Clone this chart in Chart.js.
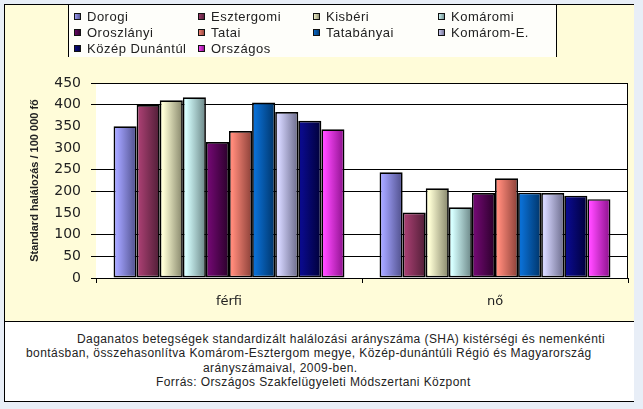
<!DOCTYPE html>
<html>
<head>
<meta charset="utf-8">
<script src="https://cdn.jsdelivr.net/npm/chart.js@4/dist/chart.umd.min.js"></script>
<style>
  body { margin: 0; background: #e8eef7; width: 643px; height: 409px; overflow: hidden; position: relative; }
  #frame { position: absolute; left: 4px; top: 4px; width: 630px; height: 318px; background: #fffcd9;
           border-left: 1px solid #000; border-top: 1px solid #000; box-sizing: border-box; }
  #legendBox { position: absolute; left: 68px; top: 5px; width: 489px; height: 52px; background: #fefefa;
               border-left: 1px solid #000; border-right: 1px solid #000; box-sizing: border-box; }
  #caption { position: absolute; left: 4px; top: 321px; width: 630px; height: 81px; background: #fff;
             border-left: 1px solid #000; border-top: 1px solid #000; border-bottom: 1px solid #000; box-sizing: border-box; }
  #captionText { position: absolute; left: 0; top: 332px; font: 12px "Liberation Sans", Arial, sans-serif;
                 color: #222; line-height: 14.4px; white-space: nowrap; letter-spacing: 0.42px; }
  #captionText div { padding-left: var(--pl); }
  #chart { position: absolute; left: 0; top: 0; }
</style>
</head>
<body>
<div id="frame"></div>
<div id="legendBox"></div>
<div id="caption"></div>
<div id="captionText">
  <div style="--pl:77px">Daganatos betegségek standardizált halálozási arányszáma (SHA) kistérségi és nemenkénti</div>
  <div style="--pl:26px">bontásban, összehasonlítva Komárom-Esztergom megye, Közép-dunántúli Régió és Magyarország</div>
  <div style="--pl:203px">arányszámaival, 2009-ben.</div>
  <div style="--pl:156px">Forrás: Országos Szakfelügyeleti Módszertani Központ</div>
</div>
<canvas id="chart" width="643" height="409"></canvas>
<script>
const categories = ["férfi", "nő"];
const regions = ["Dorogi", "Esztergomi", "Kisbéri", "Komáromi", "Oroszlányi",
                 "Tatai", "Tatabányai", "Komárom-E.", "Közép Dunántúl", "Országos"];
const ferfiValues = [350, 399, 410, 417, 314, 339, 405, 383, 363, 343];
const noValues = [244, 151, 207, 163, 196, 230, 197, 196, 190, 182];
const yMax = 450;
const yStep = 50;

// light (left edge) -> dark (right edge) of each bar
const barColors = [
    ["#a3a3ff", "#4f4f8a"],
    ["#a33d6e", "#4f1e36"],
    ["#ffffd6", "#85856a"],
    ["#d6ffff", "#6a8585"],
    ["#6e086e", "#2a002a"],
    ["#ff8a7a", "#8a4038"],
    ["#0a6ed2", "#003468"],
    ["#d6d6ff", "#6a6a8a"],
    ["#0a0a8a", "#000038"],
    ["#ff47ff", "#8a108a"]
];
const categoryPct = 0.868;
const hiddenGrid = [150, 300, 350]; // these lines are lost in the original picture
const textColor = "#222";

function barFill(context) {
    const chart = context.chart;
    const c = barColors[context.datasetIndex];
    const area = chart.chartArea;
    const xs = chart.scales.x;
    if (context.type !== "data" || !area || !xs) return c[0];
    const n = chart.data.datasets.length;
    const groupW = (area.right - area.left) / chart.data.labels.length * categoryPct;
    const barW = groupW / n;
    const left = xs.getPixelForValue(context.dataIndex) - groupW / 2 + context.datasetIndex * barW;
    const g = chart.ctx.createLinearGradient(left, 0, left + barW, 0);
    g.addColorStop(0, c[0]);
    g.addColorStop(0.15, c[0]);
    g.addColorStop(1, c[1]);
    return g;
}

const datasets = regions.map((name, i) => ({
    label: name,
    data: [ferfiValues[i], noValues[i]],
    backgroundColor: barFill,
    borderColor: "#000",
    borderWidth: 1.7,
    borderSkipped: false
}));

const plotFrame = {
    id: "plotFrame",
    beforeDraw(chart) {
        const { ctx, chartArea: a } = chart;
        ctx.save();
        ctx.fillStyle = "#fff";
        ctx.fillRect(a.left, a.top, a.right - a.left, a.bottom - a.top);
        ctx.restore();
    },
    afterDraw(chart) {
        const { ctx, chartArea: a } = chart;
        ctx.save();
        ctx.strokeStyle = "#000";
        ctx.lineWidth = 1;
        ctx.beginPath();
        ctx.moveTo(Math.round(a.right) - 0.5, a.top);
        ctx.lineTo(Math.round(a.right) - 0.5, a.bottom);
        ctx.stroke();
        ctx.restore();
    }
};

const gridLegend = {
    id: "gridLegend",
    afterDraw(chart) {
        const ctx = chart.ctx;
        const colX = [74, 198, 313, 438];
        const rowY = [16, 32, 48];
        ctx.save();
        ctx.font = '13px "Liberation Sans", Arial, sans-serif';
        ctx.letterSpacing = "0.5px";
        ctx.textBaseline = "middle";
        chart.data.datasets.forEach((ds, i) => {
            const x = colX[i % 4];
            const y = rowY[Math.floor(i / 4)];
            const g = ctx.createLinearGradient(x, 0, x + 7, 0);
            g.addColorStop(0, barColors[i][0]);
            g.addColorStop(1, barColors[i][1]);
            ctx.fillStyle = g;
            ctx.fillRect(x, y - 3, 7, 7);
            ctx.strokeStyle = "#111";
            ctx.lineWidth = 1;
            ctx.strokeRect(x + 0.5, y - 2.5, 6, 6);
            ctx.fillStyle = textColor;
            ctx.fillText(ds.label, x + 13, y + 1);
        });
        ctx.restore();
    }
};

const chart = new Chart(document.getElementById("chart"), {
    type: "bar",
    data: { labels: categories, datasets: datasets },
    options: {
        responsive: false,
        animation: false,
        events: [],
        layout: { padding: { left: 28, top: 83, right: 15, bottom: 101 } },
        datasets: { bar: { categoryPercentage: categoryPct, barPercentage: 1 } },
        plugins: { legend: { display: false }, tooltip: { enabled: false } },
        scales: {
            x: {
                afterFit: (scale) => { scale.height = 30; },
                grid: { drawOnChartArea: false, color: "#000", tickLength: 5, offset: true },
                border: { display: true, color: "#000", width: 1 },
                ticks: { color: textColor, padding: 11, font: { family: '"DejaVu Sans"', size: 13 } }
            },
            y: {
                min: 0,
                max: yMax,
                afterFit: (scale) => { scale.width = 68; },
                grid: {
                    color: (c) => hiddenGrid.includes(c.tick && c.tick.value) ? "rgba(0,0,0,0)" : "#000",
                    tickLength: 5,
                    lineWidth: 1
                },
                border: { display: false },
                ticks: { stepSize: yStep, color: textColor, padding: 10, font: { family: '"DejaVu Sans"', size: 14 } },
                title: {
                    display: true,
                    text: "Standard halálozás / 100 000 fő",
                    color: textColor,
                    padding: 0,
                    font: { family: '"Liberation Sans"', size: 11, weight: "bold" }
                }
            }
        }
    },
    plugins: [plotFrame, gridLegend]
});
</script>
</body>
</html>
